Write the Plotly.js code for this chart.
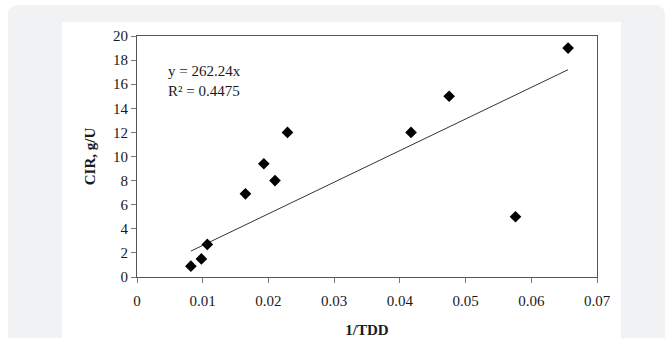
<!DOCTYPE html>
<html>
<head>
<meta charset="utf-8">
<script src="https://cdn.plot.ly/plotly-3.0.1.min.js"></script>
<style>
  html, body { margin: 0; padding: 0; background: #ffffff; width: 667px; height: 338px; overflow: hidden; }
  #panel { position: absolute; left: 8px; top: 5px; width: 657px; height: 360px; background: #f1f2f4; border-radius: 9px; }
  #chart { position: absolute; left: 62px; top: 22px; width: 559px; height: 316px; }
</style>
</head>
<body>
<div id="panel"></div>
<div id="chart"></div>
<script>
// Data
const invTDD = [0.0082, 0.0098, 0.0107, 0.0165, 0.0193, 0.0210, 0.0229, 0.0417, 0.0475, 0.0576, 0.0656];
const cir    = [0.9,    1.5,    2.7,    6.9,    9.4,    8.0,    12.0,   12.0,   15.0,   5.0,    19.0];
const slope = 262.24;
const r2 = 0.4475;
const xTicks = [0, 0.01, 0.02, 0.03, 0.04, 0.05, 0.06, 0.07];
const xTickLabels = ['0', '0.01', '0.02', '0.03', '0.04', '0.05', '0.06', '0.07'];
const yTicks = [0, 2, 4, 6, 8, 10, 12, 14, 16, 18, 20];

const xMin = Math.min(...invTDD), xMax = Math.max(...invTDD);
const trendX = [xMin, xMax];
const trendY = trendX.map(v => slope * v);

const serif = '"Liberation Serif", "Times New Roman", serif';
const txt = '#1a1a1a';

const traces = [
  { x: trendX, y: trendY, mode: 'lines', type: 'scatter',
    line: { color: '#333333', width: 1 }, hoverinfo: 'skip', showlegend: false },
  { x: invTDD, y: cir, mode: 'markers', type: 'scatter',
    marker: { symbol: 'diamond', size: 9, color: '#000000' }, showlegend: false }
];

const layout = {
  width: 559, height: 316,
  margin: { l: 75, r: 24, t: 14, b: 61 },
  paper_bgcolor: '#ffffff', plot_bgcolor: '#ffffff',
  font: { family: serif, size: 15, color: txt },
  xaxis: {
    range: [0, 0.07], tickvals: xTicks, ticktext: xTickLabels,
    showgrid: false, zeroline: false, showline: true, mirror: true,
    linecolor: '#555555', linewidth: 1, ticks: 'outside', ticklen: 5, tickcolor: '#777777',
    ticklabelstandoff: 5,
    tickfont: { family: serif, size: 15, color: txt },
    title: { text: '<b>1/TDD</b>', font: { family: serif, size: 15, color: txt }, standoff: 17 }
  },
  yaxis: {
    range: [0, 20], tickvals: yTicks,
    showgrid: false, zeroline: false, showline: true, mirror: true,
    linecolor: '#555555', linewidth: 1, ticks: 'outside', ticklen: 5, tickcolor: '#777777',
    tickfont: { family: serif, size: 15, color: txt },
    title: { text: '<b>CIR, g/U</b>', font: { family: serif, size: 15, color: txt }, standoff: 13 }
  },
  annotations: [
    { xref: 'paper', yref: 'paper', x: 0.062, y: 0.812, xanchor: 'left', yanchor: 'bottom',
      text: 'y = ' + slope.toFixed(2) + 'x', showarrow: false,
      font: { family: serif, size: 15, color: txt } },
    { xref: 'paper', yref: 'paper', x: 0.062, y: 0.812, xanchor: 'left', yanchor: 'top',
      text: 'R² = ' + r2.toFixed(4), showarrow: false,
      font: { family: serif, size: 15, color: txt } }
  ]
};

Plotly.newPlot('chart', traces, layout, { displayModeBar: false, staticPlot: true });
</script>
</body>
</html>
